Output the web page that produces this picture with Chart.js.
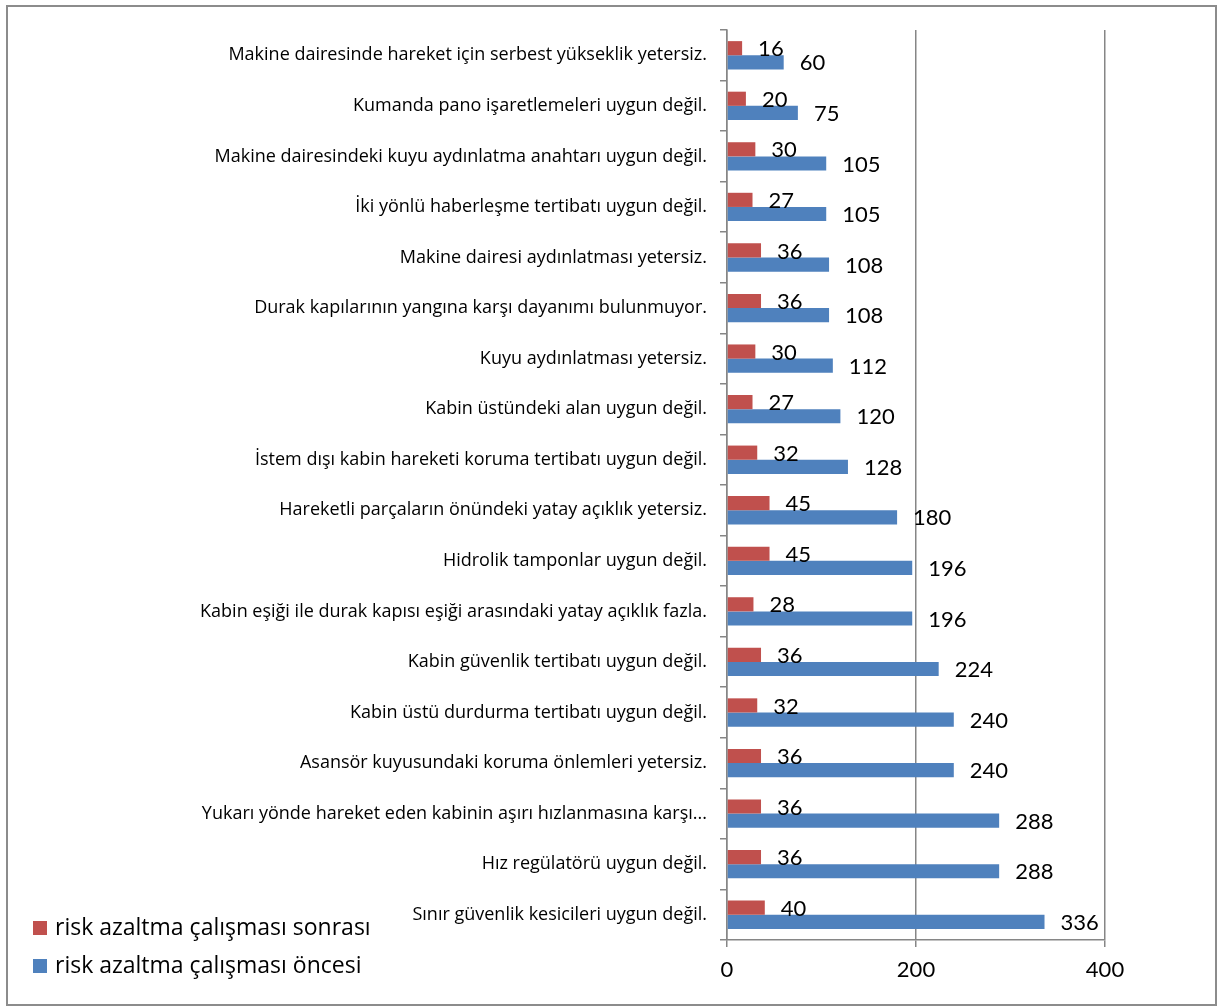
<!DOCTYPE html>
<html>
<head>
<meta charset="utf-8">
<script src="https://cdn.jsdelivr.net/npm/chart.js@4"></script>
<style>
  body { margin: 0; background: #fff; }
  #wrap { position: relative; width: 1222px; height: 1007px; }
  #frame { position: absolute; left: 6px; top: 5px; width: 1207px; height: 997px; border: 2px solid #8c8c8c; pointer-events: none; }
</style>
</head>
<body>
<div id="wrap">
  <canvas id="riskChart" width="1222" height="1007"></canvas>
  <div id="frame"></div>
</div>
<script>
const categories = [
  'Makine dairesinde hareket için serbest yükseklik yetersiz.',
  'Kumanda pano işaretlemeleri uygun değil.',
  'Makine dairesindeki kuyu aydınlatma anahtarı uygun değil.',
  'İki yönlü haberleşme tertibatı uygun değil.',
  'Makine dairesi aydınlatması yetersiz.',
  'Durak kapılarının yangına karşı dayanımı bulunmuyor.',
  'Kuyu aydınlatması yetersiz.',
  'Kabin üstündeki alan uygun değil.',
  'İstem dışı kabin hareketi koruma tertibatı uygun değil.',
  'Hareketli parçaların önündeki yatay açıklık yetersiz.',
  'Hidrolik tamponlar uygun değil.',
  'Kabin eşiği ile durak kapısı eşiği arasındaki yatay açıklık fazla.',
  'Kabin güvenlik tertibatı uygun değil.',
  'Kabin üstü durdurma tertibatı uygun değil.',
  'Asansör kuyusundaki koruma önlemleri yetersiz.',
  'Yukarı yönde hareket eden kabinin aşırı hızlanmasına karşı...',
  'Hız regülatörü uygun değil.',
  'Sınır güvenlik kesicileri uygun değil.'
];
const afterValues = [16, 20, 30, 27, 36, 36, 30, 27, 32, 45, 45, 28, 36, 32, 36, 36, 36, 40];
const beforeValues = [60, 75, 105, 105, 108, 108, 112, 120, 128, 180, 196, 196, 224, 240, 240, 288, 288, 336];
const seriesNames = ['risk azaltma çalışması sonrası', 'risk azaltma çalışması öncesi'];
const xTicks = [0, 200, 400];

const NUM_FONT = 'Lato, "Open Sans", sans-serif';
const TEXT_FONT = '"Open Sans", Lato, sans-serif';
const RED = '#C0504D';
const BLUE = '#4F81BD';
const AXIS = '#868686';

// value labels to the right of each bar
const valueLabels = {
  id: 'valueLabels',
  afterDatasetsDraw(chart) {
    const ctx = chart.ctx;
    ctx.save();
    ctx.font = '22px ' + NUM_FONT;
    ctx.fillStyle = '#000';
    ctx.textBaseline = 'middle';
    ctx.textAlign = 'left';
    chart.data.datasets.forEach((ds, i) => {
      chart.getDatasetMeta(i).data.forEach((bar, j) => {
        ctx.fillText(String(ds.data[j]), bar.x + 16, bar.y + 1);
      });
    });
    ctx.restore();
  }
};

// legend in the lower left corner
const cornerLegend = {
  id: 'cornerLegend',
  afterDraw(chart) {
    const ctx = chart.ctx;
    ctx.save();
    ctx.font = '23px ' + TEXT_FONT;
    ctx.textBaseline = 'middle';
    chart.data.datasets.forEach((ds, i) => {
      const y = 928 + i * 38;
      ctx.fillStyle = ds.backgroundColor;
      ctx.fillRect(33, y - 7, 14, 14);
      ctx.fillStyle = '#000';
      ctx.fillText(ds.label, 55, y);
    });
    ctx.restore();
  }
};

new Chart(document.getElementById('riskChart'), {
  type: 'bar',
  data: {
    labels: categories,
    datasets: [
      { label: seriesNames[0], data: afterValues, backgroundColor: RED },
      { label: seriesNames[1], data: beforeValues, backgroundColor: BLUE }
    ]
  },
  options: {
    indexAxis: 'y',
    responsive: false,
    animation: false,
    categoryPercentage: 0.56,
    barPercentage: 1,
    layout: { padding: { top: 30, right: 117, left: 0, bottom: 0 } },
    plugins: {
      legend: { display: false },
      tooltip: { enabled: false }
    },
    scales: {
      x: {
        min: 0,
        max: 400,
        afterFit: scale => { scale.height = 67; },
        afterBuildTicks: scale => { scale.ticks = xTicks.map(v => ({ value: v })); },
        border: { color: AXIS, width: 1.5 },
        grid: { color: AXIS, lineWidth: 1.5, tickLength: 7 },
        ticks: { color: '#000', font: { family: NUM_FONT, size: 22 }, padding: 10 }
      },
      y: {
        afterFit: scale => { scale.width = 727; },
        border: { color: AXIS, width: 1.5 },
        grid: { drawOnChartArea: false, color: AXIS, lineWidth: 1.5, tickLength: 7 },
        ticks: { color: '#000', font: { family: TEXT_FONT, size: 18 }, padding: 13, autoSkip: false }
      }
    }
  },
  plugins: [valueLabels, cornerLegend]
});
</script>
</body>
</html>
